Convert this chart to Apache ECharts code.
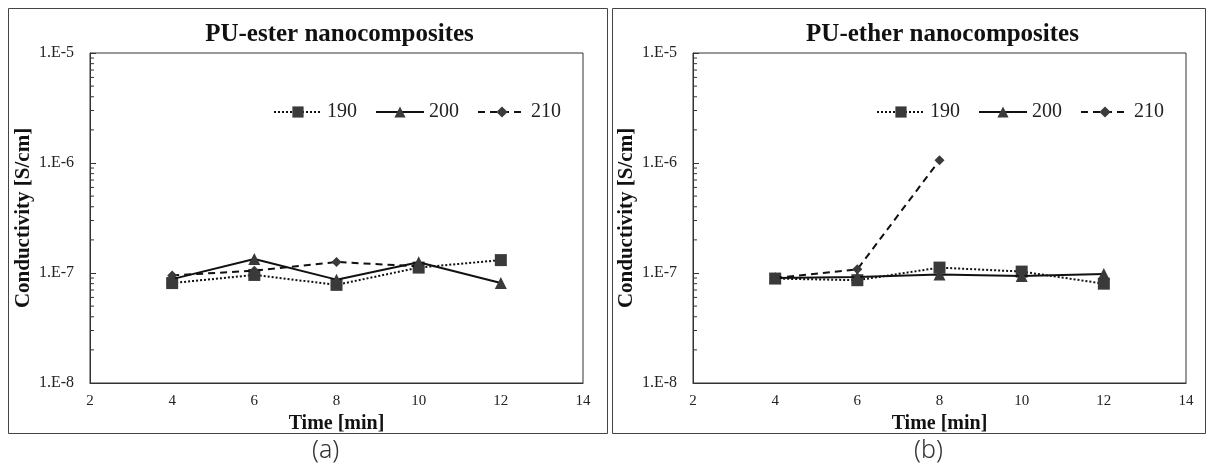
<!DOCTYPE html>
<html><head><meta charset="utf-8">
<script src="https://cdn.jsdelivr.net/npm/echarts@6/dist/echarts.min.js"></script>
<style>html,body{margin:0;padding:0;background:#fff}#c{width:1213px;height:473px}</style>
</head><body><div id="c"></div>
<script>
// ---- data ----
const timeMin = [4, 6, 8, 10, 12];
const seriesNames = ['190', '200', '210'];
const esterS190 = [8.1e-8, 9.6e-8, 7.8e-8, 1.12e-7, 1.31e-7];
const esterS200 = [8.8e-8, 1.34e-7, 8.7e-8, 1.25e-7, 8.1e-8];
const esterS210 = [9.5e-8, 1.05e-7, 1.26e-7, 1.15e-7, null];
const etherS190 = [8.9e-8, 8.6e-8, 1.12e-7, 1.03e-7, 8.0e-8];
const etherS200 = [9.0e-8, 9.2e-8, 9.7e-8, 9.4e-8, 9.8e-8];
const etherS210 = [9.0e-8, 1.08e-7, 1.06e-6, null, null];
const panelTitles = ['PU-ester nanocomposites', 'PU-ether nanocomposites'];
const panelLabels = ['(a)', '(b)'];
const xTicks = [2, 4, 6, 8, 10, 12, 14];
const yDecades = [-8, -7, -6, -5];
const minorMultipliers = [2, 3, 4, 5, 6, 7, 8, 9];

const SERIF = '"Liberation Serif","Times New Roman",serif';
const markColor = '#3a3a3a';
const styles = [
  {symbol: 'rect', symbolSize: 12, type: [2, 2]},
  {symbol: 'triangle', symbolSize: 12, type: 'solid'},
  {symbol: 'diamond', symbolSize: 10, type: [7, 5]}
];

function pairs(vals) { return timeMin.map((t, i) => [t, vals[i]]).filter(p => p[1] != null); }

const grids = [
  {left: 90, top: 53, width: 493, height: 330},
  {left: 693, top: 53, width: 493, height: 330}
];
const panelData = [[esterS190, esterS200, esterS210], [etherS190, etherS200, etherS210]];

const minorVals = [];
for (let d = -8; d < -5; d++) for (const m of minorMultipliers) minorVals.push(m * Math.pow(10, d));

const option = {
  backgroundColor: '#fff',
  animation: false,
  title: panelTitles.map((t, i) => ({
    text: t, left: grids[i].left + grids[i].width / 2 - 2, textAlign: 'center', top: 17,
    textStyle: {fontFamily: SERIF, fontWeight: 'bold', fontSize: 25, color: '#111'}
  })),
  legend: [0, 1].map(i => ({
    data: seriesNames, top: 97, left: grids[i].left + 178, itemGap: 18,
    itemWidth: 48, itemHeight: 14,
    textStyle: {fontFamily: SERIF, fontSize: 20, color: '#222'}
  })),
  grid: grids.map(g => Object.assign({show: true, borderColor: '#333', borderWidth: 1, backgroundColor: 'transparent'}, g)),
  xAxis: [0, 1].map(i => ({
    type: 'value', gridIndex: i, min: xTicks[0], max: xTicks[xTicks.length - 1], interval: 2,
    name: 'Time [min]', nameLocation: 'middle', nameGap: 25,
    nameTextStyle: {fontFamily: SERIF, fontWeight: 'bold', fontSize: 20, color: '#111'},
    axisLine: {show: true, lineStyle: {color: '#333'}}, axisTick: {show: false},
    splitLine: {show: false},
    axisLabel: {fontFamily: SERIF, fontSize: 15, color: '#222', margin: 11}
  })),
  yAxis: [0, 1].map(i => ({
    type: 'log', logBase: 10, gridIndex: i, min: Math.pow(10, yDecades[0]), max: Math.pow(10, yDecades[yDecades.length - 1]),
    name: 'Conductivity [S/cm]', nameLocation: 'middle', nameGap: 56, nameRotate: 90,
    nameTextStyle: {fontFamily: SERIF, fontWeight: 'bold', fontSize: 21, color: '#111'},
    axisLine: {show: true, lineStyle: {color: '#333'}},
    axisTick: {show: true, inside: true, length: 6, lineStyle: {color: '#333'}},
    splitLine: {show: false},
    axisLabel: {fontFamily: SERIF, fontSize: 16, color: '#222', margin: 16,
      formatter: v => '1.E' + Math.round(Math.log10(v))}
  })),
  graphic: [
    {type: 'rect', shape: {x: 8.5, y: 8.5, width: 599, height: 425}, style: {fill: 'none', stroke: '#444', lineWidth: 1}, silent: true},
    {type: 'rect', shape: {x: 612.5, y: 8.5, width: 593, height: 425}, style: {fill: 'none', stroke: '#444', lineWidth: 1}, silent: true},
    ...panelLabels.map((t, i) => ({
      type: 'text', left: (i === 0 ? 312 : 914), top: 438,
      style: {text: t, font: '300 25px "Noto Sans","DejaVu Sans",sans-serif', fill: '#333'}
    }))
  ],
  series: []
};

[0, 1].forEach(p => {
  seriesNames.forEach((n, s) => {
    option.series.push({
      name: n, type: 'line', xAxisIndex: p, yAxisIndex: p,
      data: pairs(panelData[p][s]),
      symbol: styles[s].symbol, symbolSize: styles[s].symbolSize,
      itemStyle: {color: markColor},
      lineStyle: {color: '#111', width: 2, type: styles[s].type},
      z: 3 + s
    });
  });
  option.series.push({
    type: 'custom', xAxisIndex: p, yAxisIndex: p, silent: true, clip: false,
    data: minorVals.map(v => [xTicks[0], v]),
    renderItem: (params, api) => {
      const pt = api.coord([api.value(0), api.value(1)]);
      return {type: 'line', shape: {x1: pt[0], y1: pt[1], x2: pt[0] + 4, y2: pt[1]}, style: {stroke: '#333', lineWidth: 1}};
    },
    z: 2
  });
});

const chart = echarts.init(document.getElementById('c'), null, {renderer: 'canvas'});
chart.setOption(option);
</script>
</body></html>
